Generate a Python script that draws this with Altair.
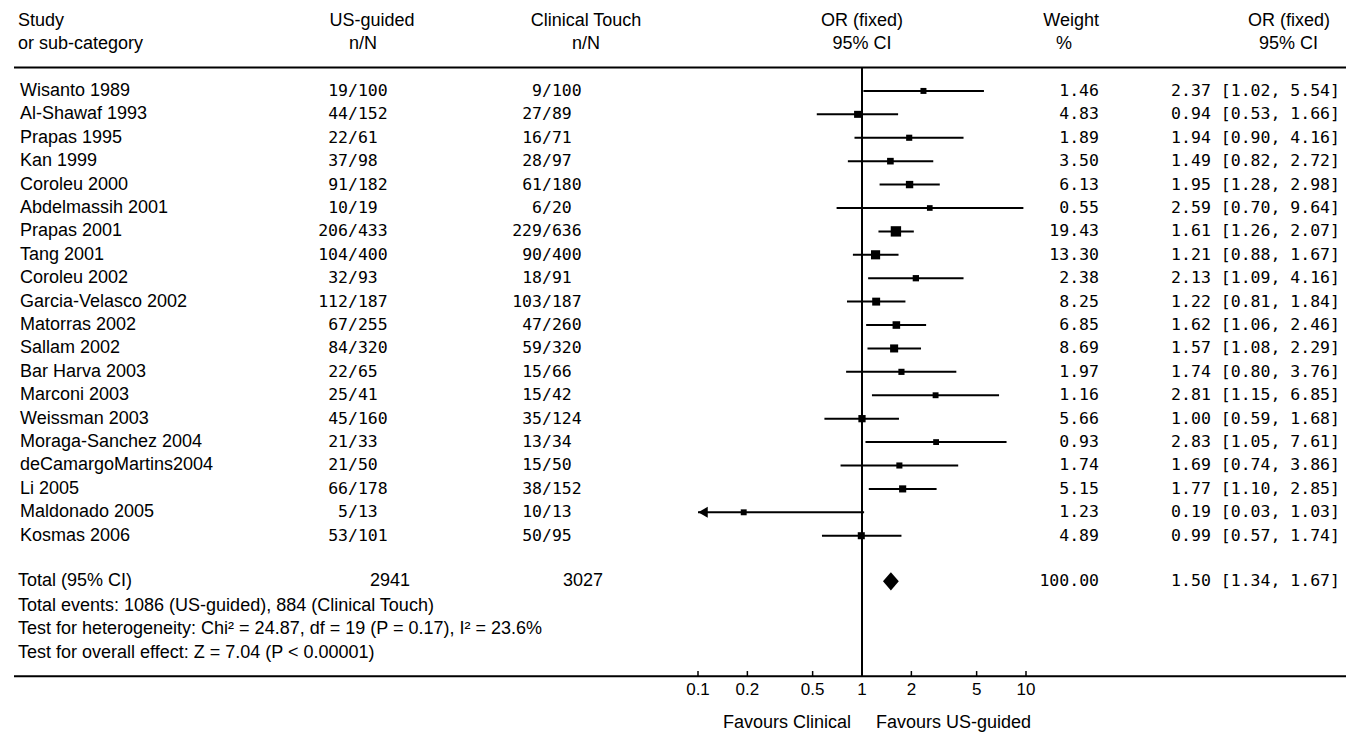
import altair as alt
import pandas as pd

# ---------------- data ----------------
studies = ["Wisanto 1989", "Al-Shawaf 1993", "Prapas 1995", "Kan 1999", "Coroleu 2000",
           "Abdelmassih 2001", "Prapas 2001", "Tang 2001", "Coroleu 2002", "Garcia-Velasco 2002",
           "Matorras 2002", "Sallam 2002", "Bar Harva 2003", "Marconi 2003", "Weissman 2003",
           "Moraga-Sanchez 2004", "deCamargoMartins2004", "Li 2005", "Maldonado 2005", "Kosmas 2006"]
us_n = [19, 44, 22, 37, 91, 10, 206, 104, 32, 112, 67, 84, 22, 25, 45, 21, 21, 66, 5, 53]
us_N = [100, 152, 61, 98, 182, 19, 433, 400, 93, 187, 255, 320, 65, 41, 160, 33, 50, 178, 13, 101]
ct_n = [9, 27, 16, 28, 61, 6, 229, 90, 18, 103, 47, 59, 15, 15, 35, 13, 15, 38, 10, 50]
ct_N = [100, 89, 71, 97, 180, 20, 636, 400, 91, 187, 260, 320, 66, 42, 124, 34, 50, 152, 13, 95]
weight = [1.46, 4.83, 1.89, 3.50, 6.13, 0.55, 19.43, 13.30, 2.38, 8.25,
          6.85, 8.69, 1.97, 1.16, 5.66, 0.93, 1.74, 5.15, 1.23, 4.89]
odds = [2.37, 0.94, 1.94, 1.49, 1.95, 2.59, 1.61, 1.21, 2.13, 1.22,
        1.62, 1.57, 1.74, 2.81, 1.00, 2.83, 1.69, 1.77, 0.19, 0.99]
ci_low = [1.02, 0.53, 0.90, 0.82, 1.28, 0.70, 1.26, 0.88, 1.09, 0.81,
          1.06, 1.08, 0.80, 1.15, 0.59, 1.05, 0.74, 1.10, 0.03, 0.57]
ci_high = [5.54, 1.66, 4.16, 2.72, 2.98, 9.64, 2.07, 1.67, 4.16, 1.84,
           2.46, 2.29, 3.76, 6.85, 1.68, 7.61, 3.86, 2.85, 1.03, 1.74]

total_N_us = 2941
total_N_ct = 3027
total_or, total_low, total_high, total_weight = 1.50, 1.34, 1.67, 100.00

tick_values = [0.1, 0.2, 0.5, 1, 2, 5, 10]
tick_labels = ["0.1", "0.2", "0.5", "1", "2", "5", "10"]

footer_lines = [
    "Total events: 1086 (US-guided), 884 (Clinical Touch)",
    "Test for heterogeneity: Chi\u00b2 = 24.87, df = 19 (P = 0.17), I\u00b2 = 23.6%",
    "Test for overall effect: Z = 7.04 (P < 0.00001)",
]

# ---------------- tables ----------------
df = pd.DataFrame({
    "study": studies, "us_n": us_n, "us_N": us_N, "ct_n": ct_n, "ct_N": ct_N,
    "weight": weight, "or": odds, "lo": ci_low, "hi": ci_high,
})
df["row"] = range(len(df))
df["us_num"] = df["us_n"].astype(str)
df["us_den"] = "/" + df["us_N"].astype(str)
df["ct_num"] = df["ct_n"].astype(str)
df["ct_den"] = "/" + df["ct_N"].astype(str)
df["w_txt"] = df["weight"].map(lambda v: f"{v:.2f}")
df["or_txt"] = [f"{o:.2f} [{l:.2f}, {h:.2f}]" for o, l, h in zip(odds, ci_low, ci_high)]

TOTAL_ROW = 20.95
total_df = pd.DataFrame({"row": [TOTAL_ROW], "or": [total_or], "lo": [total_low], "hi": [total_high],
                         "w_txt": [f"{total_weight:.2f}"],
                         "or_txt": [f"{total_or:.2f} [{total_low:.2f}, {total_high:.2f}]"],
                         "us_tot": [str(total_N_us)], "ct_tot": [str(total_N_ct)]})
footer_df = pd.DataFrame({"row": [22, 23, 24], "txt": footer_lines})
ticks_df = pd.DataFrame({"v": tick_values, "lab": tick_labels, "y0": 25.0, "y1": 24.78, "ylab": 25.58})

# ---------------- scales / styles ----------------
XS = alt.Scale(type="log", domain=[0.1, 10], range=[690, 1018])
YS = alt.Scale(domain=[-3, 27], range=[12.7, 715])
SANS = "Liberation Sans"
MONO = "DejaVu Sans Mono"
FS = 18
FM = 16.5


def Y(field="row"):
    return alt.Y(f"{field}:Q", scale=YS, axis=None)


def X(field):
    return alt.X(f"{field}:Q", scale=XS, axis=None)


def header_text(rows, texts, x, align):
    d = pd.DataFrame({"row": rows, "txt": texts})
    return alt.Chart(d).mark_text(font=SANS, fontSize=FS, align=align, baseline="middle",
                                  color="black").encode(x=alt.value(x), y=Y(), text="txt:N")


layers = []

# horizontal separator lines
lines_df = pd.DataFrame({"row": [-1.0, 25.0]})
layers.append(alt.Chart(lines_df).mark_rule(strokeWidth=2, color="black").encode(
    x=alt.value(6), x2=alt.value(1343), y=Y()))

# vertical line of no effect
v_df = pd.DataFrame({"v": [1.0], "y0": [-1.0], "y1": [25.0]})
layers.append(alt.Chart(v_df).mark_rule(strokeWidth=2, color="black").encode(
    x=X("v"), y=Y("y0"), y2="y1:Q"))

# axis ticks and labels
layers.append(alt.Chart(ticks_df).mark_rule(strokeWidth=1.5, color="black").encode(
    x=X("v"), y=Y("y0"), y2="y1:Q"))
layers.append(alt.Chart(ticks_df).mark_text(font=SANS, fontSize=17, baseline="middle",
                                            align="center", color="black").encode(
    x=X("v"), y=Y("ylab"), text="lab:N"))

# confidence intervals
layers.append(alt.Chart(df).transform_calculate(
    lo_c="max(datum.lo, 0.1)", hi_c="min(datum.hi, 10)"
).mark_rule(strokeWidth=2, color="black").encode(x=X("lo_c"), x2="hi_c:Q", y=Y()))

# arrows for truncated intervals
layers.append(alt.Chart(df).transform_filter("datum.lo < 0.1").transform_calculate(
    a="0.1").mark_point(shape="triangle-left", filled=True, opacity=1, color="black",
                        size=120, xOffset=5).encode(x=X("a"), y=Y()))

# study boxes
layers.append(alt.Chart(df).mark_square(filled=True, opacity=1, color="black").encode(
    x=X("or"), y=Y(),
    size=alt.Size("weight:Q", scale=alt.Scale(domain=[0, 20], range=[30, 110]), legend=None)))

# pooled diamond
layers.append(alt.Chart(total_df).mark_point(
    shape="M-1,0L0,-1.15L1,0L0,1.15Z", filled=True, opacity=1, color="black", size=250
).encode(x=X("or"), y=Y()))

# header
layers.append(header_text([-3, -2], ["Study", "or sub-category"], 10, "left"))
layers.append(header_text([-3], ["US-guided"], 364, "center"))
layers.append(header_text([-2], ["n/N"], 355, "center"))
layers.append(header_text([-3, -2], ["Clinical Touch", "n/N"], 578, "center"))
layers.append(header_text([-3, -2], ["OR (fixed)", "95% CI"], 854, "center"))
layers.append(header_text([-3], ["Weight"], 1091, "right"))
layers.append(header_text([-2], ["%"], 1056, "center"))
layers.append(header_text([-3], ["OR (fixed)"], 1322, "right"))
layers.append(header_text([-2], ["95% CI"], 1310, "right"))

# study names
layers.append(alt.Chart(df).mark_text(font=SANS, fontSize=FS, align="left", baseline="middle",
                                      color="black").encode(x=alt.value(12), y=Y(), text="study:N"))


def mono(field, x, align, data=df):
    return alt.Chart(data).mark_text(font=MONO, fontSize=FM, align=align, baseline="middle",
                                     color="black").encode(x=alt.value(x), y=Y(), text=f"{field}:N")


layers.append(mono("us_num", 340, "right"))
layers.append(mono("us_den", 340, "left"))
layers.append(mono("ct_num", 534, "right"))
layers.append(mono("ct_den", 534, "left"))
layers.append(mono("w_txt", 1091, "right"))
layers.append(mono("or_txt", 1332, "right"))
layers.append(mono("w_txt", 1091, "right", total_df))
layers.append(mono("or_txt", 1332, "right", total_df))

# totals row
layers.append(header_text([TOTAL_ROW], ["Total (95% CI)"], 10, "left"))
layers.append(alt.Chart(total_df).mark_text(font=SANS, fontSize=FS, align="left", baseline="middle",
                                            color="black").encode(x=alt.value(362), y=Y(), text="us_tot:N"))
layers.append(alt.Chart(total_df).mark_text(font=SANS, fontSize=FS, align="left", baseline="middle",
                                            color="black").encode(x=alt.value(555), y=Y(), text="ct_tot:N"))

# footer lines
layers.append(alt.Chart(footer_df).mark_text(font=SANS, fontSize=FS, align="left", baseline="middle",
                                             color="black").encode(x=alt.value(10), y=Y(), text="txt:N"))

# favours labels
layers.append(header_text([27], ["Favours Clinical"], 843, "right"))
layers.append(header_text([27], ["Favours US-guided"], 868, "left"))

chart = alt.layer(*layers).properties(
    width=1338, height=725,
    autosize=alt.AutoSizeParams(type="none"),
    padding=0,
    background="white",
).configure_view(strokeWidth=0)

chart.save("out.html", embed_options={"renderer": "svg", "actions": False})
